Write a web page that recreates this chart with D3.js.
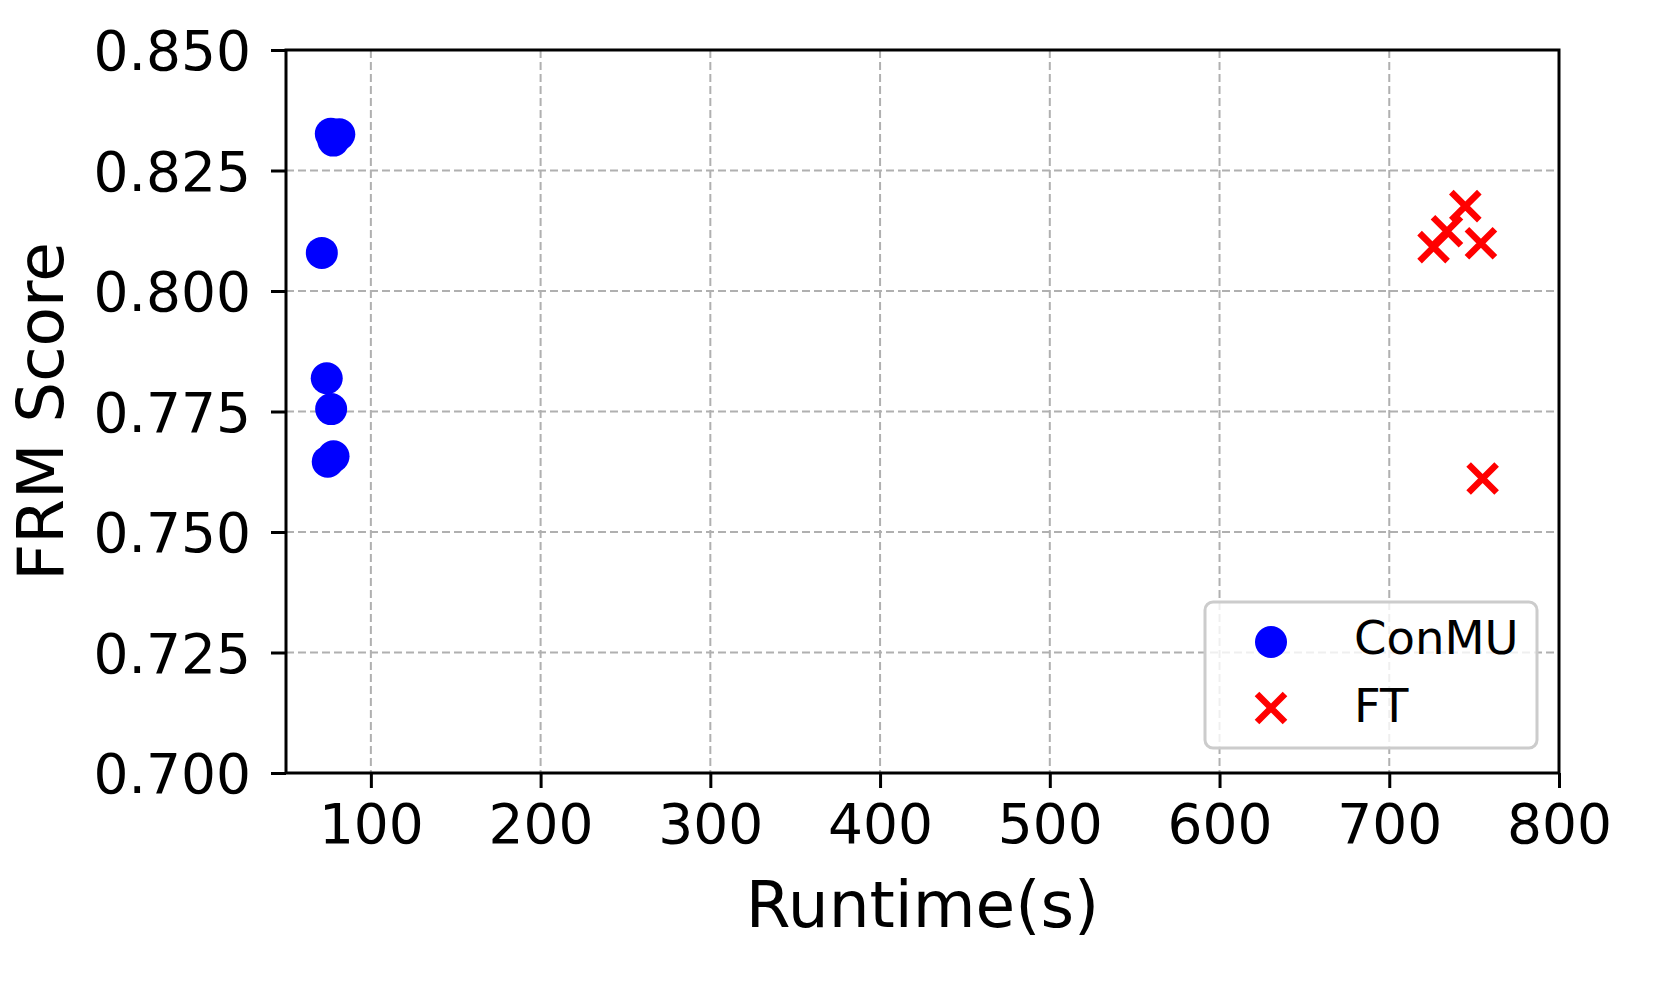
<!DOCTYPE html>
<html>
<head>
<meta charset="utf-8">
<script src="https://cdn.jsdelivr.net/npm/d3@7"></script>
<style>
    html,body{margin:0;padding:0;background:#fff;}
    svg{display:block;font-family:"DejaVu Sans",sans-serif;}
</style>
</head>
<body>
<div id="chart"></div>
<script>
// 数据
var conmuRuntime=[76.4,81.4,77.9,71.1,74.0,76.6,74.6,78.0];
var conmuScore=[0.8326,0.8325,0.8312,0.8079,0.7819,0.7755,0.7646,0.7657];
var ftRuntime=[744.8,734.0,726.1,754.0,755.0];
var ftScore=[0.8176,0.8124,0.8091,0.8099,0.7611];
var xTicks=[100,200,300,400,500,600,700,800];
var yTicks=[0.700,0.725,0.750,0.775,0.800,0.825,0.850];
var seriesNames=["ConMU","FT"];

var width=1661,height=997;
//注意: top 是 window 的只读属性, 不能用
var pLeft=286,pRight=1559,pTop=50,pBottom=773;

var svg=d3.select("#chart").append("svg")
    .attr("width",width)
    .attr("height",height);

var x=d3.scaleLinear().domain([50,800]).range([pLeft,pRight]);
var y=d3.scaleLinear().domain([0.700,0.850]).range([pBottom,pTop]);

//网格
var grid=svg.append("g");
grid.selectAll(".vg").data(xTicks).enter().append("line")
    .attr("x1",function(d){return x(d);})
    .attr("x2",function(d){return x(d);})
    .attr("y1",pTop).attr("y2",pBottom)
    .attr("stroke","#b0b0b0").attr("stroke-width",2).attr("stroke-dasharray","8,4");
grid.selectAll(".hg").data(yTicks).enter().append("line")
    .attr("x1",pLeft).attr("x2",pRight)
    .attr("y1",function(d){return y(d);})
    .attr("y2",function(d){return y(d);})
    .attr("stroke","#b0b0b0").attr("stroke-width",2).attr("stroke-dasharray","8,4");

//坐标轴
var xAxis=d3.axisBottom(x).tickValues(xTicks).tickSize(15).tickPadding(16)
    .tickFormat(d3.format("d"));
var yAxis=d3.axisLeft(y).tickValues(yTicks).tickSize(15).tickPadding(20)
    .tickFormat(d3.format(".3f"));

var gx=svg.append("g").attr("transform","translate(0,"+pBottom+")").call(xAxis);
var gy=svg.append("g").attr("transform","translate("+pLeft+",0)").call(yAxis);
[gx,gy].forEach(function(g){
    g.select(".domain").remove();
    g.selectAll(".tick line").attr("stroke","#000").attr("stroke-width",3);
    g.selectAll(".tick text").attr("fill","#000")
        .style("font-size","55px").style("font-family","DejaVu Sans");
});
gx.selectAll(".tick text").attr("dy","0.71em");
gy.selectAll(".tick text").attr("dy","0.36em");

//边框
svg.append("rect")
    .attr("x",pLeft).attr("y",pTop)
    .attr("width",pRight-pLeft).attr("height",pBottom-pTop)
    .attr("fill","none").attr("stroke","#000").attr("stroke-width",3);

//散点
svg.append("g").selectAll("circle").data(conmuRuntime).enter().append("circle")
    .attr("cx",function(d){return x(d);})
    .attr("cy",function(d,i){return y(conmuScore[i]);})
    .attr("r",16)
    .attr("fill","#0000ff");

function cross(g,cx,cy){
    var s=14;
    g.append("path")
        .attr("d","M"+(cx-s)+","+(cy-s)+"L"+(cx+s)+","+(cy+s)+"M"+(cx-s)+","+(cy+s)+"L"+(cx+s)+","+(cy-s))
        .attr("stroke","#ff0000").attr("stroke-width",6.5).attr("fill","none");
}
var gft=svg.append("g");
for(var i=0;i<ftRuntime.length;i++){
    cross(gft,x(ftRuntime[i]),y(ftScore[i]));
}

//图例
var lg=svg.append("g");
lg.append("rect")
    .attr("x",1205).attr("y",602)
    .attr("width",332).attr("height",146)
    .attr("rx",8).attr("ry",8)
    .attr("fill","#fff").attr("fill-opacity",0.8)
    .attr("stroke","#cccccc").attr("stroke-width",3);
lg.append("circle").attr("cx",1271).attr("cy",642).attr("r",16).attr("fill","#0000ff");
cross(lg,1271,708);
lg.selectAll("text").data(seriesNames).enter().append("text")
    .attr("x",1354)
    .attr("y",function(d,i){return i===0?654:722;})
    .style("font-size","46.5px")
    .attr("fill","#000")
    .text(function(d){return d;});

//轴标题
svg.append("text")
    .attr("x",(pLeft+pRight)/2).attr("y",927)
    .attr("text-anchor","middle")
    .style("font-size","64.5px")
    .text("Runtime(s)");
svg.append("text")
    .attr("transform","translate(63,"+((pTop+pBottom)/2)+") rotate(-90)")
    .attr("text-anchor","middle")
    .style("font-size","64.5px")
    .text("FRM Score");
</script>
</body>
</html>
